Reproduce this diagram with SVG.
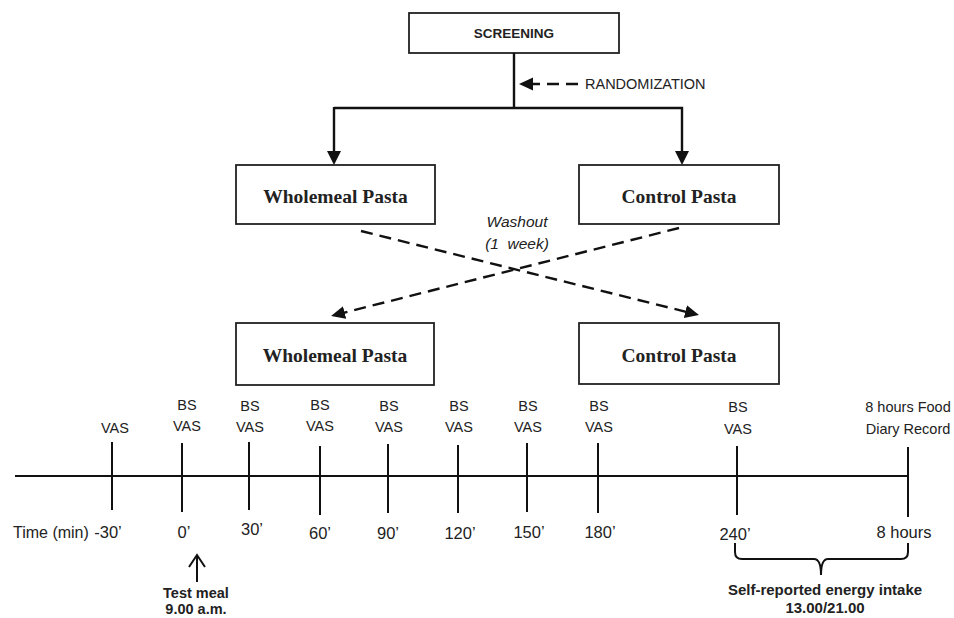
<svg xmlns="http://www.w3.org/2000/svg" width="954" height="618" viewBox="0 0 954 618">
<defs>
<marker id="ah" markerUnits="userSpaceOnUse" markerWidth="16" markerHeight="16" refX="6" refY="7" orient="auto"><path d="M0,0 L14,7 L0,14 z" fill="#111"/></marker>
<marker id="ah2" markerUnits="userSpaceOnUse" markerWidth="16" markerHeight="16" refX="6" refY="6.5" orient="auto"><path d="M0,0 L14,6.5 L0,13 z" fill="#111"/></marker>
</defs>
<style>
.box{fill:#fff;stroke:#222;stroke-width:1.8}
.solid{fill:none;stroke:#111;stroke-width:2.4}
.dash{fill:none;stroke:#111;stroke-width:2.4;stroke-dasharray:12 7}
.tl{fill:none;stroke:#111;stroke-width:2}
.serifb{font-family:"Liberation Serif","Times New Roman",serif;font-weight:bold;font-size:19.5px;fill:#222;text-anchor:middle}
.sans{font-family:"Liberation Sans",Arial,sans-serif;fill:#222}
.lab{font-size:14.5px;text-anchor:middle}
.tm{font-size:16.5px;text-anchor:middle}
.bold{font-weight:bold}
</style>
<rect width="954" height="618" fill="#fff"/>
<g id="screening"><rect class="box" x="409" y="13" width="210" height="40"/><text class="sans bold" x="514" y="38" font-size="13.5" text-anchor="middle">SCREENING</text></g>
<g id="randomization"><text class="sans" x="585" y="89" font-size="14.5">RANDOMIZATION</text></g>
<g id="wholemeal1"><rect class="box" x="236" y="165" width="199" height="59"/><text class="serifb" x="335.5" y="203">Wholemeal Pasta</text></g>
<g id="control1"><rect class="box" x="579" y="165" width="200" height="59"/><text class="serifb" x="679" y="203">Control Pasta</text></g>
<g id="washout"><text class="sans" x="517" y="227" font-size="15.5" font-style="italic" text-anchor="middle">Washout</text><text class="sans" x="517" y="249" font-size="15.5" font-style="italic" text-anchor="middle" xml:space="preserve">(1  week)</text></g>
<g id="wholemeal2"><rect class="box" x="236" y="323" width="198" height="62"/><text class="serifb" x="335" y="362">Wholemeal Pasta</text></g>
<g id="control2"><rect class="box" x="579" y="323" width="200" height="61"/><text class="serifb" x="679" y="362">Control Pasta</text></g>
<g id="connectors">
<path class="solid" d="M514,53 V108 M334,108 H682 V157" marker-end="url(#ah)"/>
<line class="solid" x1="334" y1="107" x2="334" y2="157" marker-end="url(#ah)"/>
<line class="dash" x1="578" y1="84" x2="527" y2="84" marker-end="url(#ah2)"/>
<line class="dash" x1="361" y1="231" x2="691.2" y2="313.1" marker-end="url(#ah2)"/>
<line class="dash" x1="679" y1="228" x2="338.8" y2="314" marker-end="url(#ah2)"/>
</g>
<g id="timeline">
<line class="tl" x1="15" y1="476" x2="908" y2="476"/>
<line class="tl" x1="112" y1="442" x2="112" y2="510"/>
<line class="tl" x1="182" y1="443" x2="182" y2="512"/>
<line class="tl" x1="249" y1="442" x2="249" y2="510"/>
<line class="tl" x1="320" y1="446" x2="320" y2="515"/>
<line class="tl" x1="388" y1="444" x2="388" y2="513"/>
<line class="tl" x1="458" y1="445" x2="458" y2="513"/>
<line class="tl" x1="527" y1="443" x2="527" y2="512"/>
<line class="tl" x1="598" y1="443" x2="598" y2="513"/>
<line class="tl" x1="737" y1="446" x2="737" y2="515"/>
<line class="tl" x1="908" y1="447" x2="908" y2="517"/>
</g>
<g id="labels" class="sans">
<text class="lab" x="115" y="433">VAS</text>
<text class="lab" x="187" y="410">BS</text><text class="lab" x="187" y="431">VAS</text>
<text class="lab" x="250" y="411">BS</text><text class="lab" x="250" y="432">VAS</text>
<text class="lab" x="320" y="410">BS</text><text class="lab" x="320" y="431">VAS</text>
<text class="lab" x="389" y="411">BS</text><text class="lab" x="389" y="432">VAS</text>
<text class="lab" x="459" y="411">BS</text><text class="lab" x="459" y="432">VAS</text>
<text class="lab" x="528" y="411">BS</text><text class="lab" x="528" y="432">VAS</text>
<text class="lab" x="599" y="411">BS</text><text class="lab" x="599" y="432">VAS</text>
<text class="lab" x="738" y="412">BS</text><text class="lab" x="738" y="434">VAS</text>
<text class="lab" x="908" y="412">8 hours Food</text><text class="lab" x="908" y="434">Diary Record</text>
</g>
<g id="times" class="sans">
<text x="13" y="538" font-size="16">Time (min)</text>
<text class="tm" x="108" y="538">-30’</text>
<text class="tm" x="184" y="538">0’</text>
<text class="tm" x="252" y="535">30’</text>
<text class="tm" x="320" y="539">60’</text>
<text class="tm" x="388" y="539">90’</text>
<text class="tm" x="460" y="539">120’</text>
<text class="tm" x="529" y="538">150’</text>
<text class="tm" x="600" y="538">180’</text>
<text class="tm" x="735" y="540">240’</text>
<text class="tm" x="904" y="538" font-size="18">8 hours</text>
</g>
<g id="testmeal">
<path class="tl" d="M197,582 V556 M189,567 L197,555 L205,567" stroke-linejoin="miter"/>
<text class="sans bold" x="196" y="598" font-size="14.5" text-anchor="middle">Test meal</text>
<text class="sans bold" x="196" y="614" font-size="14.5" text-anchor="middle">9.00  a.m.</text>
</g>
<g id="energy">
<path class="tl" d="M735,543 V552 Q735,559 742,559 H814 Q821,559 821,575 Q821,559 828,559 H901 Q908,559 908,552 V543" stroke-width="1.8"/>
<text class="sans bold" x="825" y="595" font-size="15" text-anchor="middle">Self-reported energy intake</text>
<text class="sans bold" x="825" y="613" font-size="15" text-anchor="middle">13.00/21.00</text>
</g>
</svg>
